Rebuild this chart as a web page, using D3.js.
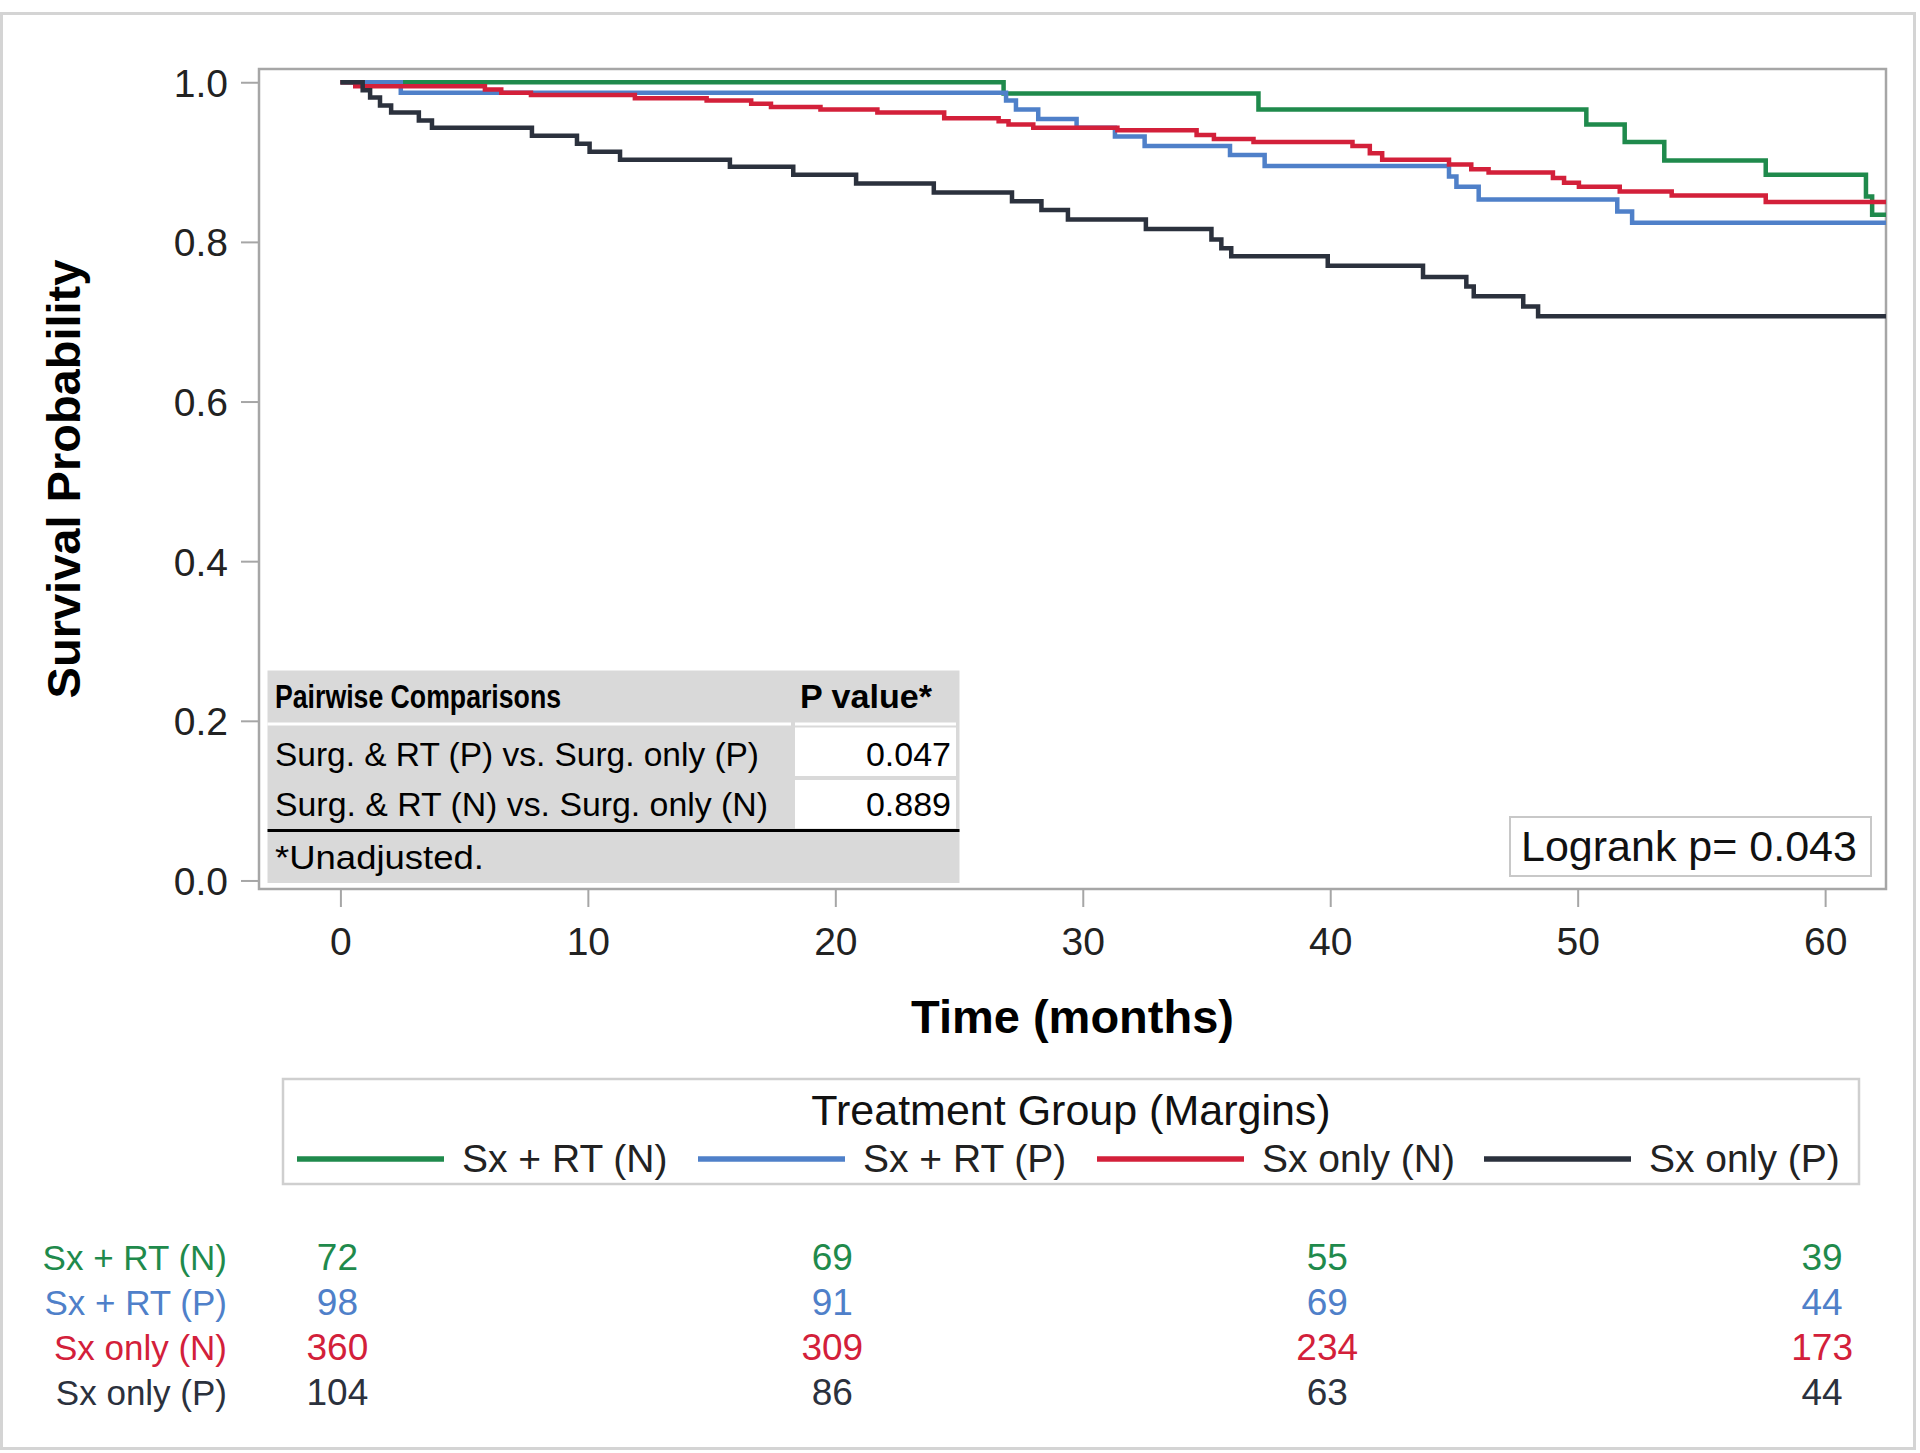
<!DOCTYPE html>
<html>
<head>
<meta charset="utf-8">
<script src="https://cdn.jsdelivr.net/npm/d3@7"></script>
<style>
  html, body { margin: 0; padding: 0; background: #ffffff; }
  svg { display: block; }
  text { font-family: "Liberation Sans", Arial, sans-serif; }
</style>
</head>
<body>
<svg id="chart" width="1920" height="1453"></svg>
<script>
// ---------------- DATA ----------------
const groups = ["Sx + RT (N)", "Sx + RT (P)", "Sx only (N)", "Sx only (P)"];

// Kaplan-Meier step points (time in months, survival probability)
const timeSxRtN = [0, 26.8, 37.1, 50.35, 51.9, 53.5, 57.6, 61.65, 61.9, 62.5];
const survSxRtN = [1.0, 0.986, 0.966, 0.947, 0.925, 0.902, 0.884, 0.857, 0.834, 0.834];

const timeSxRtP = [0, 2.44, 26.9, 27.3, 28.2, 29.75, 31.3, 32.5, 35.95, 37.35, 44.8, 45.1, 46.0, 51.6, 52.2, 62.5];
const survSxRtP = [1.0, 0.987, 0.977, 0.966, 0.954, 0.943, 0.932, 0.920, 0.909, 0.895, 0.882, 0.869, 0.853, 0.838, 0.824, 0.824];

const timeSxOnlyN = [0, 0.6, 5.84, 6.5, 7.7, 11.9, 14.8, 16.6, 17.4, 19.4, 21.7, 24.4, 26.6, 27.0, 28.0, 31.4, 34.6, 35.3, 36.9, 40.9, 41.6, 42.1, 44.8, 45.7, 46.4, 49.0, 49.45, 50.05, 51.7, 53.8, 57.6, 62.5];
const survSxOnlyN = [1.0, 0.995, 0.991, 0.987, 0.984, 0.980, 0.977, 0.973, 0.969, 0.966, 0.962, 0.955, 0.951, 0.947, 0.943, 0.940, 0.934, 0.929, 0.925, 0.920, 0.911, 0.903, 0.897, 0.891, 0.887, 0.880, 0.874, 0.869, 0.863, 0.858, 0.850, 0.850];

const timeSxOnlyP = [0, 0.9, 1.2, 1.6, 2.05, 3.17, 3.7, 7.74, 9.56, 10.07, 11.3, 15.74, 18.3, 20.84, 23.98, 27.14, 28.33, 29.4, 32.55, 35.2, 35.6, 36.0, 39.9, 43.75, 45.5, 45.8, 47.8, 48.4, 62.5];
const survSxOnlyP = [1.0, 0.990, 0.981, 0.971, 0.962, 0.952, 0.943, 0.933, 0.923, 0.913, 0.903, 0.894, 0.884, 0.873, 0.862, 0.851, 0.840, 0.828, 0.816, 0.803, 0.792, 0.782, 0.770, 0.756, 0.744, 0.732, 0.719, 0.707, 0.707];

const xTickValues = [0, 10, 20, 30, 40, 50, 60];
const yTickValues = [0.0, 0.2, 0.4, 0.6, 0.8, 1.0];

const atRiskTimes = [0, 20, 40, 60];
const atRiskSxRtN = [72, 69, 55, 39];
const atRiskSxRtP = [98, 91, 69, 44];
const atRiskSxOnlyN = [360, 309, 234, 173];
const atRiskSxOnlyP = [104, 86, 63, 44];

const pairwiseHeader = ["Pairwise Comparisons", "P value*"];
const pairwiseLabels = ["Surg. & RT (P) vs. Surg. only (P)", "Surg. & RT (N) vs. Surg. only (N)"];
const pairwisePValues = ["0.047", "0.889"];
const pairwiseFootnote = "*Unadjusted.";
const logrankText = "Logrank p= 0.043";
const legendTitle = "Treatment Group (Margins)";

// ---------------- STYLE ----------------
const colors = ["#1f8a4c", "#4f80c9", "#d3203a", "#2b313d"];
const series = [
  { name: groups[0], t: timeSxRtN, s: survSxRtN, risk: atRiskSxRtN },
  { name: groups[1], t: timeSxRtP, s: survSxRtP, risk: atRiskSxRtP },
  { name: groups[2], t: timeSxOnlyN, s: survSxOnlyN, risk: atRiskSxOnlyN },
  { name: groups[3], t: timeSxOnlyP, s: survSxOnlyP, risk: atRiskSxOnlyP }
];

const svg = d3.select("#chart");
const frame = { left: 259, right: 1886, top: 69, bottom: 889 };

const x = d3.scaleLinear().domain([-3.29, 62.46]).range([frame.left, frame.right]);
const y = d3.scaleLinear().domain([-0.0107, 1.0166]).range([frame.bottom, frame.top]);

// outer border
svg.append("rect").attr("x", 1.5).attr("y", 13.5).attr("width", 1913).attr("height", 1435)
  .attr("fill", "#fff").attr("stroke", "#d4d4d4").attr("stroke-width", 3);

// clip
svg.append("defs").append("clipPath").attr("id", "plotclip")
  .append("rect").attr("x", frame.left).attr("y", frame.top)
  .attr("width", frame.right - frame.left).attr("height", frame.bottom - frame.top);

// axes
const axisColor = "#a6a6a6";
const tickTextColor = "#222";

const yAxis = svg.append("g").attr("transform", `translate(${frame.left},0)`)
  .call(d3.axisLeft(y).tickValues(yTickValues).tickFormat(d3.format(".1f")).tickSize(18).tickPadding(13).tickSizeOuter(0));
yAxis.select(".domain").remove();
yAxis.selectAll(".tick line").attr("stroke", axisColor).attr("stroke-width", 2);
yAxis.selectAll(".tick text").attr("font-size", 39).attr("fill", tickTextColor)
  .attr("font-family", "'Liberation Sans', Arial, sans-serif").attr("dy", "0.36em");

const xAxis = svg.append("g").attr("transform", `translate(0,${frame.bottom})`)
  .call(d3.axisBottom(x).tickValues(xTickValues).tickFormat(d3.format("d")).tickSize(18).tickSizeOuter(0));
xAxis.select(".domain").remove();
xAxis.selectAll(".tick line").attr("stroke", axisColor).attr("stroke-width", 2);
xAxis.selectAll(".tick text").attr("font-size", 39).attr("fill", tickTextColor)
  .attr("font-family", "'Liberation Sans', Arial, sans-serif").attr("y", 66).attr("dy", 0);

// frame
svg.append("rect").attr("x", frame.left).attr("y", frame.top)
  .attr("width", frame.right - frame.left).attr("height", frame.bottom - frame.top)
  .attr("fill", "none").attr("stroke", axisColor).attr("stroke-width", 2.5);

// axis titles
svg.append("text").attr("transform", `translate(80,479) rotate(-90)`)
  .attr("text-anchor", "middle").attr("font-size", 47).attr("font-weight", "bold").attr("fill", "#000")
  .text("Survival Probability");
svg.append("text").attr("x", (frame.left + frame.right) / 2).attr("y", 1033)
  .attr("text-anchor", "middle").attr("font-size", 47).attr("font-weight", "bold").attr("fill", "#000")
  .text("Time (months)");

// curves
const line = d3.line().x(d => x(d[0])).y(d => y(d[1])).curve(d3.curveStepAfter);
const curveG = svg.append("g").attr("clip-path", "url(#plotclip)");
series.forEach((sr, i) => {
  const pts = sr.t.map((t, k) => [t, sr.s[k]]);
  curveG.append("path").datum(pts).attr("d", line)
    .attr("fill", "none").attr("stroke", colors[i]).attr("stroke-width", 4.5)
    .attr("stroke-linejoin", "miter");
});

// pairwise table
const tb = { left: 267.5, right: 959.5, top: 670.5, bottom: 883, colSplit: 791, pLeft: 795, pRight: 956 };
const tg = svg.append("g");
tg.append("rect").attr("x", tb.left).attr("y", tb.top).attr("width", tb.right - tb.left).attr("height", tb.bottom - tb.top)
  .attr("fill", "#d9d9d9");
tg.append("rect").attr("x", tb.left).attr("y", 722.5).attr("width", tb.colSplit - tb.left).attr("height", 3).attr("fill", "#fff");
tg.append("rect").attr("x", tb.pLeft).attr("y", 722.5).attr("width", tb.pRight - tb.pLeft).attr("height", 3).attr("fill", "#fff");
const rowTops = [727.5, 780];
const rowH = 48.5;
rowTops.forEach(rt => {
  tg.append("rect").attr("x", tb.pLeft).attr("y", rt).attr("width", tb.pRight - tb.pLeft).attr("height", rowH).attr("fill", "#fff");
});
tg.append("rect").attr("x", tb.left).attr("y", 829).attr("width", tb.right - tb.left).attr("height", 3).attr("fill", "#000");

const tableFont = "Carlito, Lato, 'Open Sans', sans-serif";
tg.append("text").attr("x", 275).attr("y", 708).attr("font-family", tableFont).attr("font-size", 34).attr("font-weight", "bold")
  .attr("textLength", 286).attr("lengthAdjust", "spacingAndGlyphs").text(pairwiseHeader[0]);
tg.append("text").attr("x", 800).attr("y", 708).attr("font-family", tableFont).attr("font-size", 34).attr("font-weight", "bold")
  .attr("textLength", 132).attr("lengthAdjust", "spacingAndGlyphs").text(pairwiseHeader[1]);
const rowLens = [484, 493];
pairwiseLabels.forEach((lab, i) => {
  tg.append("text").attr("x", 275).attr("y", [766, 816][i]).attr("font-family", tableFont).attr("font-size", 34)
    .attr("textLength", rowLens[i]).attr("lengthAdjust", "spacingAndGlyphs").text(lab);
  tg.append("text").attr("x", 951).attr("y", [766, 816][i]).attr("font-family", tableFont).attr("font-size", 34)
    .attr("text-anchor", "end").text(pairwisePValues[i]);
});
tg.append("text").attr("x", 275).attr("y", 869).attr("font-family", tableFont).attr("font-size", 34)
  .attr("textLength", 209).attr("lengthAdjust", "spacingAndGlyphs").text(pairwiseFootnote);

// logrank box
svg.append("rect").attr("x", 1510).attr("y", 817).attr("width", 361).attr("height", 59)
  .attr("fill", "#fff").attr("stroke", "#c8c8c8").attr("stroke-width", 2);
svg.append("text").attr("x", 1521).attr("y", 861).attr("font-size", 43).attr("fill", "#111").text(logrankText);

// legend
const lg = svg.append("g");
lg.append("rect").attr("x", 283).attr("y", 1079).attr("width", 1576).attr("height", 105)
  .attr("fill", "#fff").attr("stroke", "#cfcfcf").attr("stroke-width", 2.5);
lg.append("text").attr("x", 1071).attr("y", 1125).attr("text-anchor", "middle").attr("font-size", 43).attr("fill", "#111")
  .text(legendTitle);
const legendLineX = [297, 698, 1097, 1484];
groups.forEach((g, i) => {
  lg.append("line").attr("x1", legendLineX[i]).attr("x2", legendLineX[i] + 147).attr("y1", 1159).attr("y2", 1159)
    .attr("stroke", colors[i]).attr("stroke-width", 5.5);
  lg.append("text").attr("x", legendLineX[i] + 165).attr("y", 1172).attr("font-size", 39).attr("fill", "#222").text(g);
});

// at-risk table
const riskBase = [1270, 1315, 1360, 1405];
series.forEach((sr, i) => {
  svg.append("text").attr("x", 227).attr("y", riskBase[i]).attr("text-anchor", "end")
    .attr("font-size", 35).attr("fill", colors[i]).text(sr.name);
  sr.risk.forEach((v, k) => {
    svg.append("text").attr("x", x(atRiskTimes[k]) - 3).attr("y", riskBase[i]).attr("text-anchor", "middle")
      .attr("font-size", 37).attr("fill", colors[i]).text(v);
  });
});
</script>
</body>
</html>
